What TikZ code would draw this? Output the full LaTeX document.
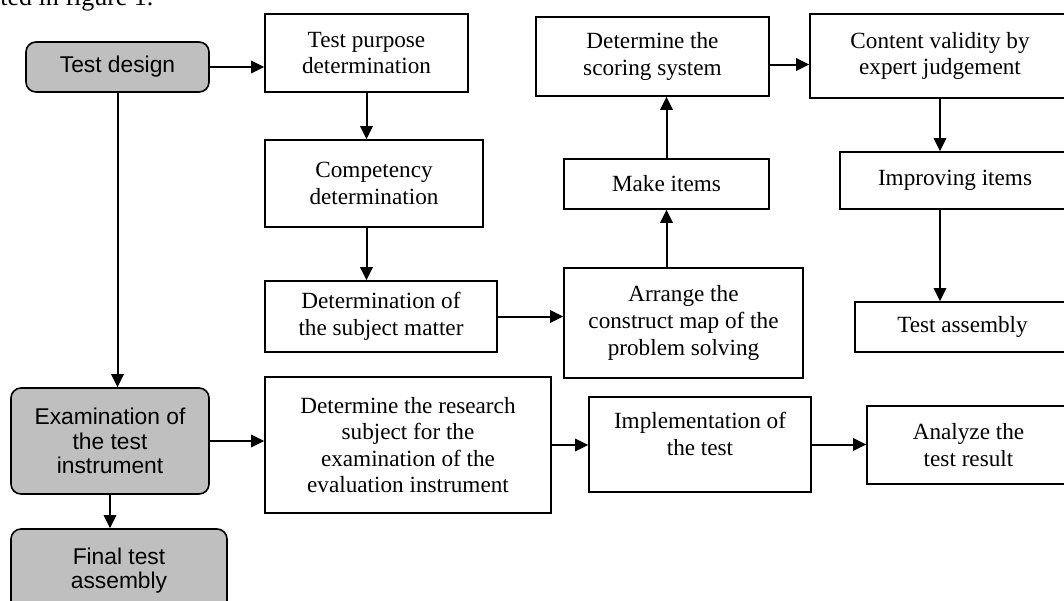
\documentclass[tikz,border=0pt]{standalone}
\usepackage{fontspec}
\setmainfont{Liberation Serif}
\newfontfamily\arialfont{Liberation Sans}
\usepackage{tikz}
\usetikzlibrary{arrows.meta}

\begin{document}
\begin{tikzpicture}[x=0.5pt,y=-0.5pt,>={Triangle[length=6.5pt,width=6.2pt]},
		every node/.style={align=center,inner sep=0pt},
		box/.style={draw,line width=0.8pt,fill=white,font=\fontsize{11.6pt}{13.3pt}\selectfont},
		stage/.style={draw,line width=0.8pt,rounded corners=5pt,fill=gray!50,font=\arialfont\fontsize{11.4pt}{12.4pt}\selectfont},
		flow/.style={->,line width=1pt}]
			\useasboundingbox (0,0) rectangle (1064,600);
			\node[anchor=base west,font=\fontsize{13pt}{15pt}\selectfont] (Caption) at (0,5) {ted in figure 1.};
			% main stages
			\node[stage,minimum width=91.5pt,minimum height=25pt]   (TestDesign)    at (117.5,67)  {Test design};
			\node[stage,minimum width=99pt,minimum height=53pt]     (Examination)   at (110,441)   {Examination of\\the test\\instrument};
			\node[stage,minimum width=108pt,minimum height=41.5pt]  (FinalAssembly) at (119,570.5) {Final test\\assembly};
			% test design steps
			\node[box,minimum width=101.5pt,minimum height=39pt]    (TestPurpose)     at (366.5,53)  {Test purpose\\determination};
			\node[box,minimum width=109pt,minimum height=43.5pt]    (Competency)      at (374,183.5) {Competency\\determination};
			\node[box,minimum width=116pt,minimum height=35.5pt]    (SubjectMatter)   at (381,316.5) {Determination of\\the subject matter};
			\node[box,minimum width=119.5pt,minimum height=55pt]    (ConstructMap)    at (683.5,323) {Arrange the\\construct map of the\\problem solving};
			\node[box,minimum width=102.5pt,minimum height=25pt]    (MakeItems)       at (666.5,184) {Make items};
			\node[box,minimum width=116.5pt,minimum height=39.5pt]  (ScoringSystem)   at (652.5,56.5) {Determine the\\scoring system};
			\node[box,minimum width=130pt,minimum height=42pt]      (ContentValidity) at (940,56)    {Content validity by\\expert judgement};
			\node[box,minimum width=115pt,minimum height=28.5pt]    (ImprovingItems)  at (955,180.5) {Improving items};
			\node[box,minimum width=107.5pt,minimum height=25pt]    (TestAssembly)    at (962.5,327) {Test assembly};
			% examination steps
			\node[box,minimum width=143pt,minimum height=68pt]      (ResearchSubject) at (408,445)   {Determine the research\\subject for the\\examination of the\\evaluation instrument};
			\node[box,minimum width=111pt,minimum height=47.5pt]    (Implementation)  at (700,444.5) {Implementation of\\the test\\[-6.5pt]\strut};
			\node[box,minimum width=101.5pt,minimum height=39pt]    (AnalyzeResult)   at (968.5,445) {Analyze the\\test result};

			\draw[flow] (TestDesign) -- (TestDesign -| TestPurpose.west);
			\draw[flow] (TestPurpose.south) -- (TestPurpose.south |- Competency.north);
			\draw[flow] (Competency.south -| TestPurpose.south) -- (TestPurpose.south |- SubjectMatter.north);
			\draw[flow] (SubjectMatter) -- (SubjectMatter -| ConstructMap.west);
			\draw[flow] (MakeItems |- ConstructMap.north) -- (MakeItems.south);
			\draw[flow] (MakeItems.north) -- (MakeItems |- ScoringSystem.south);
			\draw[flow] ([yshift=-4pt]ScoringSystem.east) -- ([yshift=-4pt]ScoringSystem.east -| ContentValidity.west);
			\draw[flow] (ContentValidity.south) -- (ContentValidity.south |- ImprovingItems.north);
			\draw[flow] (ContentValidity.south |- ImprovingItems.south) -- (ContentValidity.south |- TestAssembly.north);
			\draw[flow] (TestDesign.south) -- (TestDesign.south |- Examination.north);
			\draw[flow] (Examination.south) -- (Examination.south |- FinalAssembly.north);
			\draw[flow] (Examination) -- (Examination -| ResearchSubject.west);
			\draw[flow] (ResearchSubject) -- (ResearchSubject -| Implementation.west);
			\draw[flow] (Implementation) -- (Implementation -| AnalyzeResult.west);
		\end{tikzpicture}
\end{document}
